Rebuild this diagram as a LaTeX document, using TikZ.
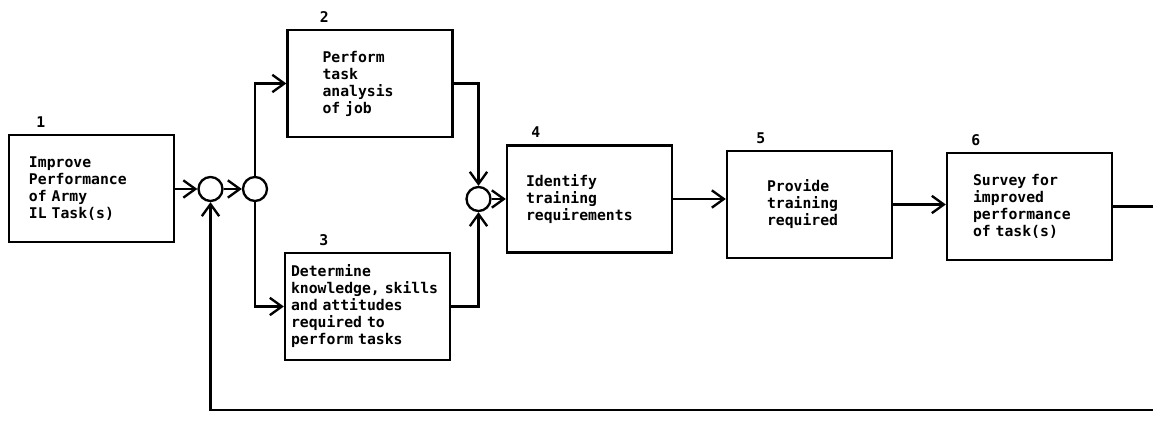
\documentclass[tikz,border=0pt]{standalone}
\usepackage{fontspec}
\setmonofont{DejaVu Sans Mono}
\usetikzlibrary{positioning,arrows.meta}

\begin{document}
\begin{tikzpicture}[
    x=0.3mm, y=-0.3mm,
    >={Straight Barb[length=3.6mm, width=5.2mm]},
    line width=2pt,
    stepbox/.style={rectangle, draw, minimum width=49.5mm, minimum height=32.1mm,
                 inner sep=1pt, align=left,
                 font=\ttfamily\bfseries\fontsize{12.6}{14.5}\selectfont},
    junction/.style={circle, draw, minimum size=7.2mm, inner sep=0pt},
    num/.style={inner sep=0pt, anchor=south west, yshift=1.6mm,
                font=\ttfamily\bfseries\fontsize{12.6}{14.5}\selectfont},
]
\useasboundingbox (0,0) rectangle (1153,424);
\clip (0,0) rectangle (1153,424);

% --- process steps ---
\node[stepbox, text width=37.5mm] (s1) at (91.5,188.5)
    {Improve\\Performance\\of Army\\IL Task(s)};
\node[stepbox, text width=28.5mm] (s2) at (370,83.5)
    {Perform\\task\\analysis\\of job};
\node[stepbox, text width=45.9mm] (s3) at (367.5,306.5)
    {Determine\\knowledge, skills\\and attitudes\\required to\\perform tasks};
\node[stepbox, text width=38.1mm] (s4) at (589.5,199)
    {Identify\\training\\requirements};
\node[stepbox, text width=25.5mm] (s5) at (809.5,204.5)
    {Provide\\training\\required};
\node[stepbox, text width=33.9mm] (s6) at (1029.5,206.5)
    {Survey for\\improved\\performance\\of task(s)};

% step numbers
\node[num, xshift=8.2mm]  (n1) at (s1.north west) {1};
\node[num, xshift=9.7mm]  (n2) at (s2.north west) {2};
\node[num, xshift=10.3mm] (n3) at (s3.north west) {3};
\node[num, xshift=7.3mm]  (n4) at (s4.north west) {4};
\node[num, xshift=8.8mm]  (n5) at (s5.north west) {5};
\node[num, xshift=7.3mm]  (n6) at (s6.north west) {6};

% --- junctions ---
\node[junction] (jin)    at (210.5,189) {};
\node[junction] (jsplit) at (255,189)   {};
\node[junction] (jmerge) at (478.5,199) {};

% --- connectors ---
\draw[->] (s1.east |- jin) -- (jin.west);
\draw[->] (jin) -- (jsplit);
\draw[->] (jsplit.north) |- (s2.west);
\draw[->] (jsplit.south) |- (s3.west);
\draw[->] (s2.east) -| (jmerge.north);
\draw[->] (s3.east) -| (jmerge.south);
\draw[->] (jmerge.east) -- (jmerge.east -| s4.west);
\draw[->] (s4.east) -- (s4.east -| s5.west);
\draw[->] (s5.east) -- (s5.east -| s6.west);

% feedback loop (runs off the right edge)
\coordinate (loopR) at (1180,410);
\draw[->] (s6.east) -| (loopR) -| (jin.south);

\end{tikzpicture}
\end{document}
